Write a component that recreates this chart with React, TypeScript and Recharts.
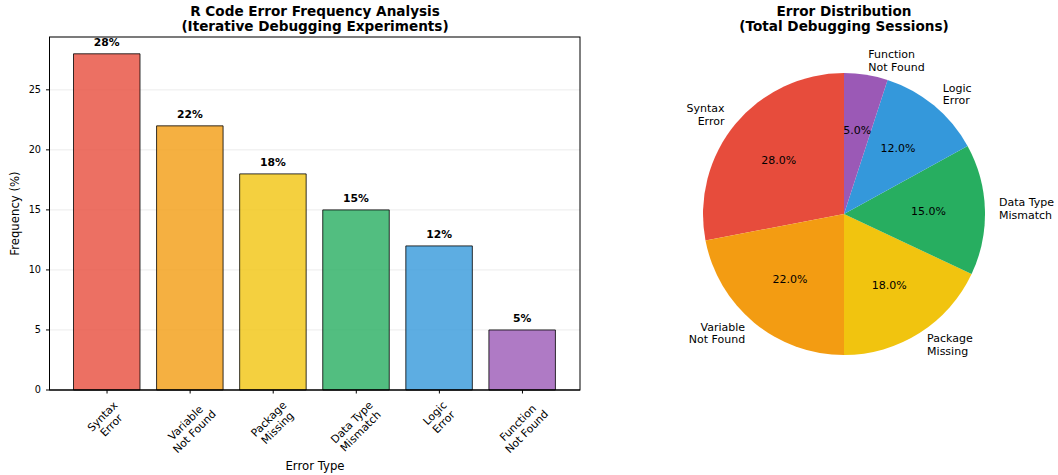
import React from 'react';
import { BarChart, Bar, XAxis, YAxis, CartesianGrid, Cell, LabelList, PieChart, Pie } from 'recharts';

const categories = ['Syntax\nError', 'Variable\nNot Found', 'Package\nMissing', 'Data Type\nMismatch', 'Logic\nError', 'Function\nNot Found'];
const frequencies = [28, 22, 18, 15, 12, 5];
const colors = ['#e74c3c', '#f39c12', '#f1c40f', '#27ae60', '#3498db', '#9b59b6'];
const yTicks = [0, 5, 10, 15, 20, 25];

const FONT = '"DejaVu Sans", sans-serif';
const RADIAN = Math.PI / 180;

// plot box of the bar panel
const PLOT_LEFT = 49.5;
const PLOT_TOP = 37;
const PLOT_RIGHT = 580;
const PLOT_BOTTOM = 390;

let ctx: CanvasRenderingContext2D | null = null;
const measure = (text: string, font: string) => {
  if (!ctx) ctx = document.createElement('canvas').getContext('2d');
  if (!ctx) return text.length * 6;
  ctx.font = font;
  return ctx.measureText(text).width;
};

const XTick = (props: any) => {
  const { x, y, payload } = props;
  const lines: string[] = String(payload.value).split('\n');
  const fs = 10.8;
  const lh = 12.5;
  const w = Math.max(...lines.map((l) => measure(l, `${fs}px "DejaVu Sans"`)));
  const h = lines.length * lh;
  const half = (0.7071 * (w + h)) / 2;
  const cy = y + 5.5 + half;
  return (
    <g transform={`translate(${x},${cy}) rotate(-45)`}>
      {lines.map((l, i) => (
        <text key={i} x={0} y={(i - (lines.length - 1) / 2) * lh} textAnchor="middle" dominantBaseline="central"
          fontSize={fs} fontFamily={FONT} fill="#000">{l}</text>
      ))}
    </g>
  );
};

const BarValue = (props: any) => {
  const { x, y, width, value } = props;
  return (
    <text x={x + width / 2} y={y - 7.5} textAnchor="middle" fontSize={10.8} fontWeight="bold" fontFamily={FONT} fill="#000">
      {`${value}%`}
    </text>
  );
};

const PieLabel = (props: any) => {
  const { cx, cy, midAngle, outerRadius, percent, index } = props;
  const cos = Math.cos(-midAngle * RADIAN);
  const sin = Math.sin(-midAngle * RADIAN);
  const ox = cx + outerRadius * 1.1 * cos;
  const oy = cy + outerRadius * 1.1 * sin;
  const px = cx + outerRadius * 0.6 * cos;
  const py = cy + outerRadius * 0.6 * sin;
  const lines = categories[index].split('\n');
  const lh = 12.4;
  const anchor = ox >= cx ? 'start' : 'end';
  return (
    <g>
      {lines.map((l, i) => (
        <text key={i} x={ox} y={oy + (i - (lines.length - 1) / 2) * lh} textAnchor={anchor} dominantBaseline="central"
          fontSize={11} fontFamily={FONT} fill="#000">{l}</text>
      ))}
      <text x={px} y={py} textAnchor="middle" dominantBaseline="central" fontSize={11} fontFamily={FONT} fill="#000">
        {`${(percent * 100).toFixed(1)}%`}
      </text>
    </g>
  );
};

export default function App() {
  const barData = categories.map((label, i) => ({ label, value: frequencies[i] }));
  const pieData = categories.map((label, i) => ({ name: label, value: frequencies[i] }));

  return (
    <div style={{ position: 'absolute', left: 0, top: 0, width: 1058, height: 475, background: '#fff', fontFamily: FONT }}>
      <div style={{ position: 'absolute', left: 0, top: 0 }}>
        <BarChart width={600} height={475} data={barData}
          margin={{ top: PLOT_TOP, right: 600 - PLOT_RIGHT, bottom: 0, left: 0 }}>
          <CartesianGrid vertical={false} stroke="#b0b0b0" strokeOpacity={0.3} strokeWidth={0.8} />
          <XAxis dataKey="label" height={475 - PLOT_BOTTOM} padding={{ left: 16, right: 16 }} interval={0}
            stroke="#000" tickSize={3.5} tickMargin={0} tick={<XTick />} />
          <YAxis width={PLOT_LEFT} domain={[0, 29.4]} ticks={yTicks} stroke="#000" tickSize={3.5} tickMargin={5}
            tick={{ fill: '#000', fontSize: 9.7, fontFamily: FONT }} />
          <Bar dataKey="value" barSize={66.5} isAnimationActive={false} stroke="#000" strokeOpacity={0.8} strokeWidth={1}>
            {barData.map((_, i) => (
              <Cell key={i} fill={colors[i]} fillOpacity={0.8} />
            ))}
            <LabelList dataKey="value" content={<BarValue />} />
          </Bar>
        </BarChart>
        <svg width={600} height={475} style={{ position: 'absolute', left: 0, top: 0, pointerEvents: 'none' }}>
          <rect x={PLOT_LEFT} y={PLOT_TOP} width={PLOT_RIGHT - PLOT_LEFT} height={PLOT_BOTTOM - PLOT_TOP}
            fill="none" stroke="#000" strokeWidth={1} />
          <text x={315} y={16} textAnchor="middle" fontSize={13.6} fontWeight="bold" fontFamily={FONT}>R Code Error Frequency Analysis</text>
          <text x={315} y={31} textAnchor="middle" fontSize={13.6} fontWeight="bold" fontFamily={FONT}>(Iterative Debugging Experiments)</text>
          <text x={315} y={470} textAnchor="middle" fontSize={11.7} fontFamily={FONT}>Error Type</text>
          <text x={19} y={213.5} transform="rotate(-90 19 213.5)" textAnchor="middle" fontSize={11.7} fontFamily={FONT}>Frequency (%)</text>
        </svg>
      </div>
      <div style={{ position: 'absolute', left: 600, top: 0 }}>
        <PieChart width={458} height={475} margin={{ top: 0, right: 0, bottom: 0, left: 0 }}>
          <Pie data={pieData} dataKey="value" nameKey="name" cx={244} cy={214} outerRadius={141} startAngle={90} endAngle={450}
            stroke="none" isAnimationActive={false} labelLine={false} label={PieLabel}>
            {pieData.map((_, i) => (
              <Cell key={i} fill={colors[i]} />
            ))}
          </Pie>
        </PieChart>
        <svg width={458} height={475} style={{ position: 'absolute', left: 0, top: 0, pointerEvents: 'none' }}>
          <text x={244} y={16} textAnchor="middle" fontSize={13.6} fontWeight="bold" fontFamily={FONT}>Error Distribution</text>
          <text x={244} y={31} textAnchor="middle" fontSize={13.6} fontWeight="bold" fontFamily={FONT}>(Total Debugging Sessions)</text>
        </svg>
      </div>
    </div>
  );
}
